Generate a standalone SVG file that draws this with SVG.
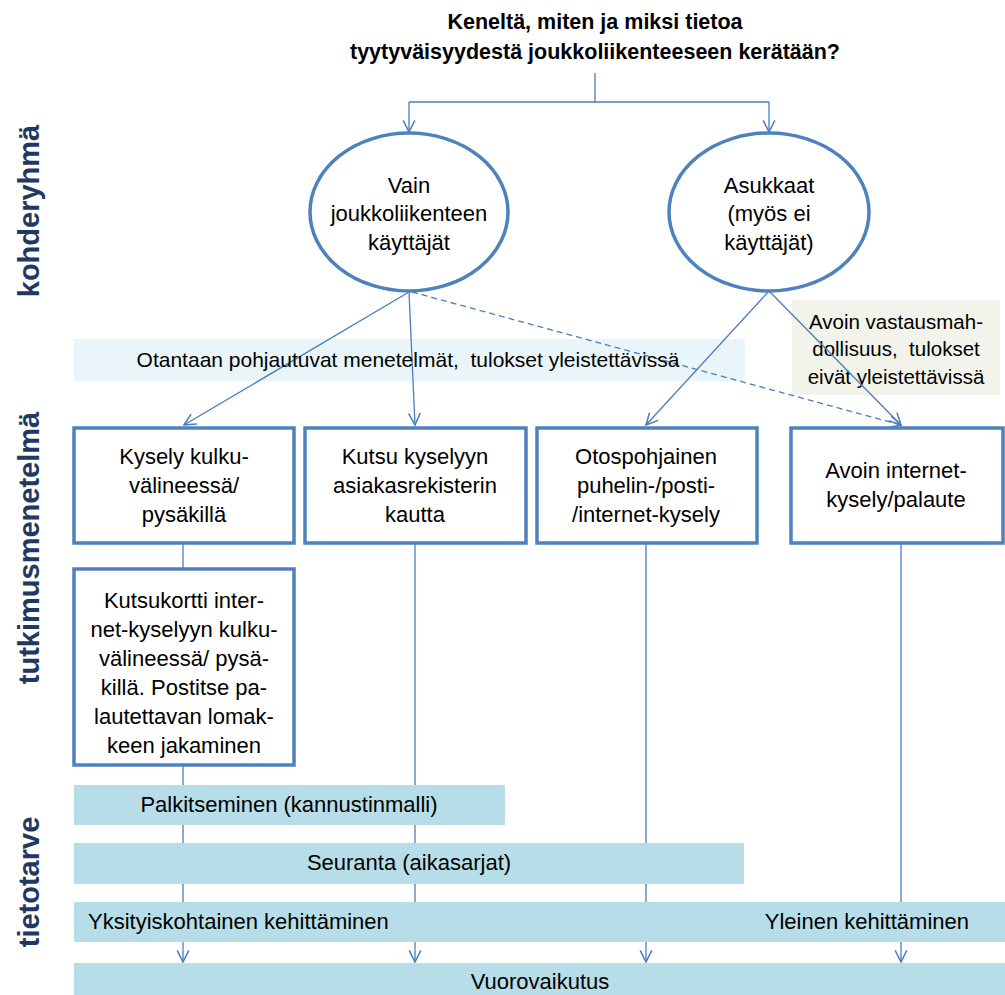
<svg xmlns="http://www.w3.org/2000/svg" width="1005" height="995" viewBox="0 0 1005 995">
<defs>
<marker id="arr" markerUnits="userSpaceOnUse" markerWidth="14" markerHeight="14" viewBox="0 0 12 12" refX="11" refY="6" orient="auto">
<path d="M1,1 L11,6 L1,11" fill="none" stroke="#4a7ebb" stroke-width="1.3"/>
</marker>
<style>
text{font-family:"Liberation Sans",Arial,sans-serif;fill:#000;}
.t{font-size:22px;text-anchor:middle;}
.title{font-size:21.5px;font-weight:bold;text-anchor:middle;}
.side{font-size:29px;font-weight:bold;fill:#1f3864;text-anchor:middle;}
.box{fill:#fff;stroke:#4f81bd;stroke-width:3.5;}
.ell{fill:#fff;stroke:#4f81bd;stroke-width:3.5;}
.bar{fill:#b7dde8;}
.ln{fill:none;stroke:#4a7ebb;stroke-width:1.3;}
</style>
</defs>
<rect width="1005" height="995" fill="#fff"/>

<g id="title">
<text class="title" x="595" y="29">Keneltä, miten ja miksi tietoa</text>
<text class="title" x="595" y="59">tyytyväisyydestä joukkoliikenteeseen kerätään?</text>
</g>

<g id="side-labels">
<text class="side" transform="translate(39,211) rotate(-90)">kohderyhmä</text>
<text class="side" transform="translate(39,548) rotate(-90)">tutkimusmenetelmä</text>
<text class="side" transform="translate(39,882) rotate(-90)">tietotarve</text>
</g>

<g id="band-otanta">
<rect x="74" y="339" width="671" height="42" fill="#e4f2f7" fill-opacity="0.8"/>
</g>

<g id="note-avoin">
<rect x="792" y="300" width="208" height="95" fill="#f2f3ea"/>
<text class="t" style="font-size:20.5px" x="896" y="329">Avoin vastausmah-</text>
<text class="t" style="font-size:20.5px" x="896" y="356" xml:space="preserve">dollisuus,  tulokset</text>
<text class="t" style="font-size:20.5px" x="896" y="384">eivät yleistettävissä</text>
</g>

<g id="connectors">
<path class="ln" d="M595,73 V102"/>
<path class="ln" d="M409,102 H769"/>
<path class="ln" d="M409,102 V132" marker-end="url(#arr)"/>
<path class="ln" d="M769,102 V132" marker-end="url(#arr)"/>
<path class="ln" d="M409,292 L184,425" marker-end="url(#arr)"/>
<path class="ln" d="M409,292 L415,425" marker-end="url(#arr)"/>
<path class="ln" d="M412,292 L901,425" stroke-dasharray="6,4" marker-end="url(#arr)"/>
<path class="ln" d="M769,291 L646,425" marker-end="url(#arr)"/>
<path class="ln" d="M769,291 L901,425" marker-end="url(#arr)"/>
<path class="ln" d="M183,543 V569"/>
<path class="ln" d="M183,765 V962" marker-end="url(#arr)"/>
<path class="ln" d="M415,543 V962" marker-end="url(#arr)"/>
<path class="ln" d="M646,543 V962" marker-end="url(#arr)"/>
<path class="ln" d="M901,543 V962" marker-end="url(#arr)"/>
</g>

<g id="band-text">
<text class="t" style="font-size:21px" x="408" y="367" xml:space="preserve">Otantaan pohjautuvat menetelmät,  tulokset yleistettävissä</text>
</g>

<g id="ell-vain">
<ellipse class="ell" cx="409" cy="212" rx="99" ry="79"/>
<text class="t" x="409" y="193">Vain</text>
<text class="t" x="409" y="221">joukkoliikenteen</text>
<text class="t" x="409" y="250">käyttäjät</text>
</g>

<g id="ell-asukkaat">
<ellipse class="ell" cx="769" cy="212" rx="100" ry="79"/>
<text class="t" x="769" y="193">Asukkaat</text>
<text class="t" x="769" y="221">(myös ei</text>
<text class="t" x="769" y="250">käyttäjät)</text>
</g>

<g id="box-kysely">
<rect class="box" x="74" y="428" width="220" height="115"/>
<text class="t" x="184" y="464">Kysely kulku-</text>
<text class="t" x="184" y="493">välineessä/</text>
<text class="t" x="184" y="522">pysäkillä</text>
</g>

<g id="box-kutsu">
<rect class="box" x="305" y="428" width="221" height="115"/>
<text class="t" x="415" y="464">Kutsu kyselyyn</text>
<text class="t" x="415" y="493">asiakasrekisterin</text>
<text class="t" x="415" y="522">kautta</text>
</g>

<g id="box-otos">
<rect class="box" x="537" y="428" width="220" height="115"/>
<text class="t" x="646" y="464">Otospohjainen</text>
<text class="t" x="646" y="493">puhelin-/posti-</text>
<text class="t" x="646" y="522">/internet-kysely</text>
</g>

<g id="box-avoin">
<rect class="box" x="791" y="428" width="212" height="115"/>
<text class="t" x="896" y="478">Avoin internet-</text>
<text class="t" x="896" y="507">kysely/palaute</text>
</g>

<g id="box-kutsukortti">
<rect class="box" x="74" y="569" width="220" height="196"/>
<text class="t" x="184" y="608">Kutsukortti inter-</text>
<text class="t" x="184" y="637">net-kyselyyn kulku-</text>
<text class="t" x="184" y="666">välineessä/ pysä-</text>
<text class="t" x="184" y="695">killä. Postitse pa-</text>
<text class="t" x="184" y="724">lautettavan lomak-</text>
<text class="t" x="184" y="753">keen jakaminen</text>
</g>

<g id="bar-palkitseminen">
<rect class="bar" x="74" y="785" width="431" height="40"/>
<text class="t" x="289" y="812">Palkitseminen (kannustinmalli)</text>
</g>

<g id="bar-seuranta">
<rect class="bar" x="74" y="843" width="670" height="41"/>
<text class="t" x="409" y="870">Seuranta (aikasarjat)</text>
</g>

<g id="bar-kehittaminen">
<rect class="bar" x="74" y="902" width="931" height="40"/>
<text style="font-size:22px" x="88" y="929">Yksityiskohtainen kehittäminen</text>
<text style="font-size:22px;text-anchor:end" x="969" y="929">Yleinen kehittäminen</text>
</g>

<g id="bar-vuorovaikutus">
<rect class="bar" x="74" y="963" width="931" height="32"/>
<text class="t" x="540" y="989">Vuorovaikutus</text>
</g>
</svg>
